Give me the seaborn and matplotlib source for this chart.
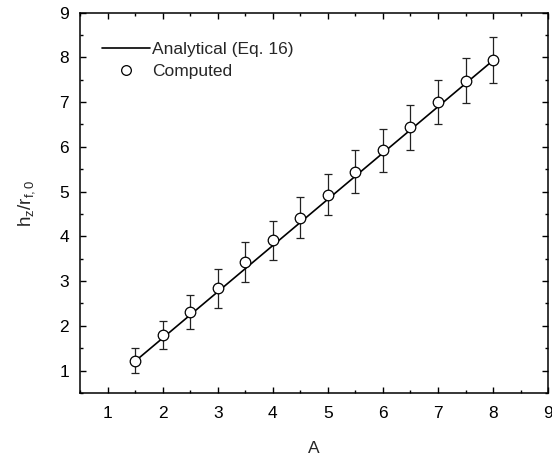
import matplotlib
matplotlib.use("Agg")
import matplotlib.pyplot as plt
import seaborn as sns
import pandas as pd
from matplotlib.ticker import MultipleLocator
from matplotlib.lines import Line2D

# Data
A_computed = [1.5, 2.0, 2.5, 3.0, 3.5, 4.0, 4.5, 5.0, 5.5, 6.0, 6.5, 7.0, 7.5, 8.0]
h_computed = [1.22, 1.80, 2.31, 2.84, 3.42, 3.91, 4.42, 4.93, 5.44, 5.92, 6.44, 7.01, 7.48, 7.94]
h_err = [0.28, 0.31, 0.39, 0.44, 0.45, 0.44, 0.45, 0.46, 0.48, 0.48, 0.50, 0.49, 0.51, 0.51]
A_analytical = [1.5, 8.0]
h_analytical = [1.21, 7.93]

sns.set_style("ticks")
plt.rcParams['font.family'] = ['Liberation Sans', 'DejaVu Sans']
plt.rcParams['mathtext.fontset'] = 'custom'
plt.rcParams['mathtext.rm'] = 'Liberation Sans'
plt.rcParams['mathtext.it'] = 'Liberation Sans'

fig = plt.figure(figsize=(5.52, 4.57), dpi=100)
ax = fig.add_axes([0.145, 0.14, 0.848, 0.8326])

df_line = pd.DataFrame({"A": A_analytical, "h": h_analytical})
df_pts = pd.DataFrame({"A": A_computed, "h": h_computed, "err": h_err})

sns.lineplot(data=df_line, x="A", y="h", ax=ax, color="black", linewidth=1.2, zorder=2)
ax.errorbar(df_pts["A"], df_pts["h"], yerr=df_pts["err"], fmt="none",
            ecolor="#222222", elinewidth=0.9, capsize=3, capthick=0.9, zorder=1)
sns.scatterplot(data=df_pts, x="A", y="h", ax=ax, marker="o", s=58,
                facecolor="white", edgecolor="black", linewidth=0.9, zorder=3)

ax.set_xlim(0.5, 9)
ax.set_ylim(0.5, 9)
ax.xaxis.set_major_locator(MultipleLocator(1))
ax.xaxis.set_minor_locator(MultipleLocator(0.5))
ax.yaxis.set_major_locator(MultipleLocator(1))
ax.yaxis.set_minor_locator(MultipleLocator(0.5))
ax.tick_params(which="both", direction="in", top=True, right=True,
               labeltop=False, labelright=False, width=1.0, colors="black")
ax.tick_params(which="major", length=4.5, labelsize=12.5)
ax.tick_params(axis="x", which="major", pad=9)
ax.tick_params(axis="y", which="major", pad=8)
ax.tick_params(which="minor", length=2.5)
for s in ax.spines.values():
    s.set_linewidth(1.1)
    s.set_color("black")

ax.set_xlabel("A", fontsize=12.5, labelpad=15)
ax.set_ylabel(r"h$_\mathregular{z}$/r$_\mathregular{f,0}$", fontsize=13.5, labelpad=16)

handles = [
    Line2D([], [], color="black", linewidth=1.2),
    Line2D([], [], color="black", marker="o", markersize=7, markerfacecolor="white",
           markeredgewidth=0.9, linestyle="none"),
]
ax.legend(handles, ["Analytical (Eq. 16)", "Computed"], loc="upper left",
          bbox_to_anchor=(0.02, 0.955), frameon=False, fontsize=12.5,
          handlelength=2.8, handletextpad=0.1, labelspacing=0.4, borderaxespad=0.3)

fig.savefig("out.png", dpi=100)
